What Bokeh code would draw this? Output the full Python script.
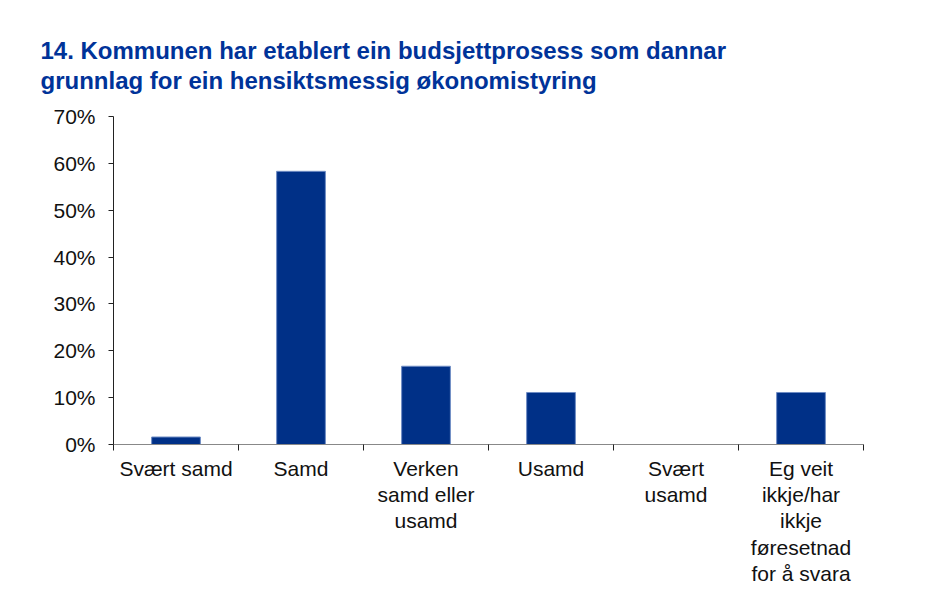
from bokeh.plotting import figure
from bokeh.models import ColumnDataSource, Range1d, LinearAxis, FixedTicker, PrintfTickFormatter, Title
from bokeh.embed import file_html
from bokeh.resources import INLINE

categories = ["Svært samd", "Samd", "Verken\nsamd eller\nusamd", "Usamd", "Svært\nusamd",
              "Eg veit\nikkje/har\nikkje\nføresetnad\nfor å svara"]
values = [1.6, 58.3, 16.7, 11.1, 0.0, 11.1]
y_ticks = [0, 10, 20, 30, 40, 50, 60, 70]
title_text = "14. Kommunen har etablert ein budsjettprosess som dannar\ngrunnlag for ein hensiktsmessig økonomistyring"

BAR = "#003087"
FONT = "Liberation Sans"

x_pos = [i + 0.5 for i in range(len(categories))]
boundaries = list(range(len(categories) + 1))
src = ColumnDataSource(dict(x=x_pos, top=values))

p = figure(width=920, height=588, output_backend="svg", toolbar_location=None,
           x_range=Range1d(0, len(categories)), y_range=Range1d(0, 70),
           x_axis_location=None, y_axis_location=None,
           min_border_left=113, min_border_right=57, min_border_top=116, min_border_bottom=144)
p.outline_line_color = None
p.xgrid.visible = False
p.ygrid.visible = False
p.background_fill_color = "white"
p.border_fill_color = "white"

p.vbar(x="x", top="top", width=0.39, source=src, fill_color=BAR,
       line_color="#6f8cc4", line_width=1)

# y axis
ya = LinearAxis(ticker=FixedTicker(ticks=y_ticks), formatter=PrintfTickFormatter(format="%d%%"))
ya.axis_line_color = "#222222"
ya.major_tick_line_color = "#222222"
ya.major_tick_out = 5
ya.major_tick_in = 0
ya.minor_tick_out = 0
ya.minor_tick_in = 0
ya.major_label_text_font = FONT
ya.major_label_text_font_size = "21px"
ya.major_label_text_color = "#111111"
ya.major_label_standoff = 13
p.add_layout(ya, "left")

# x axis: labels at category centres, tick marks at category boundaries
xa = LinearAxis(ticker=FixedTicker(ticks=x_pos, minor_ticks=boundaries),
                major_label_overrides={x: c for x, c in zip(x_pos, categories)})
xa.axis_line_color = "#888888"
xa.major_tick_line_color = None
xa.major_tick_out = 0
xa.major_tick_in = 0
xa.minor_tick_line_color = "#222222"
xa.minor_tick_out = 6
xa.minor_tick_in = 0
xa.major_label_text_font = FONT
xa.major_label_text_font_size = "21px"
xa.major_label_text_color = "#111111"
xa.major_label_text_line_height = 1.15
xa.major_label_standoff = 6
p.add_layout(xa, "below")

p.title = Title(text=title_text, align="left", text_font=FONT, text_font_size="24px",
                text_font_style="bold", text_color="#003399", offset=-73, standoff=44,
                text_line_height=1.12)

with open("out.html", "w") as f:
    f.write(file_html(p, INLINE))
